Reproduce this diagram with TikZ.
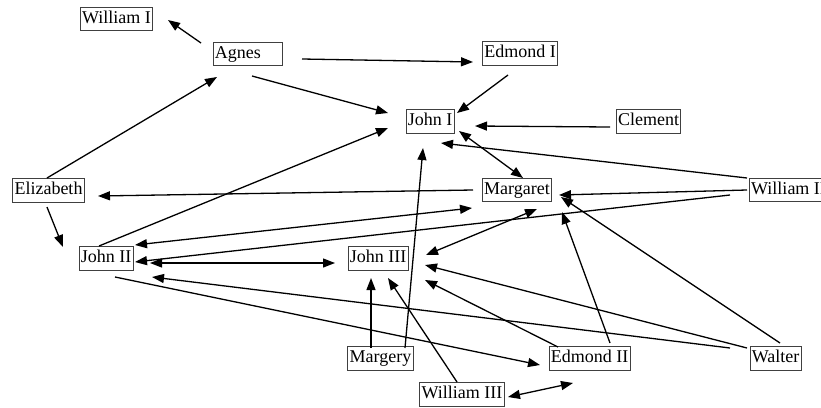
\documentclass[tikz,border=0pt]{standalone}
\usepackage{fontspec}
\setmainfont{Liberation Serif}
\usetikzlibrary{arrows.meta,calc}
\begin{document}
\begin{tikzpicture}[x=1pt,y=-1pt,
  box/.style={draw=black!75, line width=0.8pt, font=\fontsize{18}{20}\selectfont,
    inner xsep=1.8pt, inner ysep=3.5pt, text height=12.5pt, text depth=4pt},
  arr/.style={line width=1.3pt, -{Triangle[length=12pt,width=9pt]}},
  darr/.style={line width=1.3pt, {Triangle[length=12pt,width=9pt]}-{Triangle[length=12pt,width=9pt]}}]
\useasboundingbox (0,0) rectangle (821,407);
\fill[white] (0,0) rectangle (821,407);
% nodes
\node[box] (w1) at (116.5,19) {William I};
\node[box, text width=65.4pt, align=left] (agnes) at (247.5,54) {Agnes};
\node[box] (e1) at (520,53.5) {Edmond I};
\node[box] (j1) at (430,121.5) {John I};
\node[box] (clem) at (648.5,121.5) {Clement};
\node[box] (eliz) at (48.5,190.5) {Elizabeth};
\node[box] (marg) at (517,190) {Margaret};
\node[box, anchor=west] (w2) at (749,190) {William II};
\node[box] (j2) at (106,258.5) {John II};
\node[box] (j3) at (378,258.5) {John III};
\node[box] (mgy) at (380.5,358.5) {Margery};
\node[box] (e2) at (589.5,358.5) {Edmond II};
\node[box] (walt) at (775.5,358.5) {Walter};
\node[box] (w3) at (462,394.5) {William III};
% connectors
\draw[arr] ($(agnes)+(-46.5,-11)$) -- ($(w1)+(51.5,1)$);
\draw[arr] ($(agnes)+(54.5,5)$) -- ($(e1)+(-47,8.5)$);
\draw[arr] ($(agnes)+(4.5,22)$) -- ($(j1)+(-42,-8.5)$);
\draw[arr] ($(eliz)+(-1.5,-12.5)$) -- ($(agnes)+(-30.5,23)$);
\draw[arr] ($(e1)+(-12,21.5)$) -- ($(j1)+(27,-8.5)$);
\draw[arr] ($(clem)+(-38.5,5.5)$) -- ($(j1)+(45,4.5)$);
\draw[darr] ($(j1)+(29,9.5)$) -- ($(marg)+(6,-12)$);
\draw[arr] ($(w2.west)+(-2,-12)$) -- ($(j1)+(11,21.5)$);
\draw[arr] ($(w2.west)+(-2,0)$) -- ($(marg)+(42,5)$);
\draw[arr] ($(marg)+(-44,0)$) -- ($(eliz)+(49.5,5.5)$);
\draw[darr] ($(j2)+(29,-13.5)$) -- ($(marg)+(-45,18)$);
\draw[arr] ($(w2.west)+(-19,5)$) -- ($(j2)+(29,3.5)$);
\draw[darr] ($(marg)+(20,19)$) -- ($(j3)+(48,-3.5)$);
\draw[arr] ($(e2)+(20.5,-15.5)$) -- ($(marg)+(45,22)$);
\draw[arr] ($(walt)+(4.5,-15.5)$) -- ($(marg)+(44,7)$);
\draw[arr] ($(walt)+(-28.5,-10.5)$) -- ($(j3)+(47,6.5)$);
\draw[arr] ($(walt)+(-45.5,-10.5)$) -- ($(j2)+(46,18.5)$);
\draw[arr] ($(e2)+(-31.5,-11.5)$) -- ($(j3)+(47,21.5)$);
\draw[arr] ($(j2)+(9,18.5)$) -- ($(e2)+(-49.5,6.5)$);
\draw[arr] ($(mgy)+(-9.5,-10.5)$) -- ($(j3)+(-7,19.5)$);
\draw[arr] ($(w3)+(-5,-12.5)$) -- ($(j3)+(10,19.5)$);
\draw[arr] ($(mgy)+(24.5,-10.5)$) -- ($(j1)+(-7,26.5)$);
\draw[darr] ($(w3)+(46,2.5)$) -- ($(e2)+(-16.5,24.5)$);
\draw[arr] ($(eliz)+(-1.5,16.5)$) -- ($(j2)+(-43,-11.5)$);
\draw[arr] ($(j2)+(-7,-12.5)$) -- ($(j1)+(-42,6.5)$);
\draw[darr] ($(j2)+(44,4.5)$) -- ($(j3)+(-43,4.5)$);
\end{tikzpicture}
\end{document}
